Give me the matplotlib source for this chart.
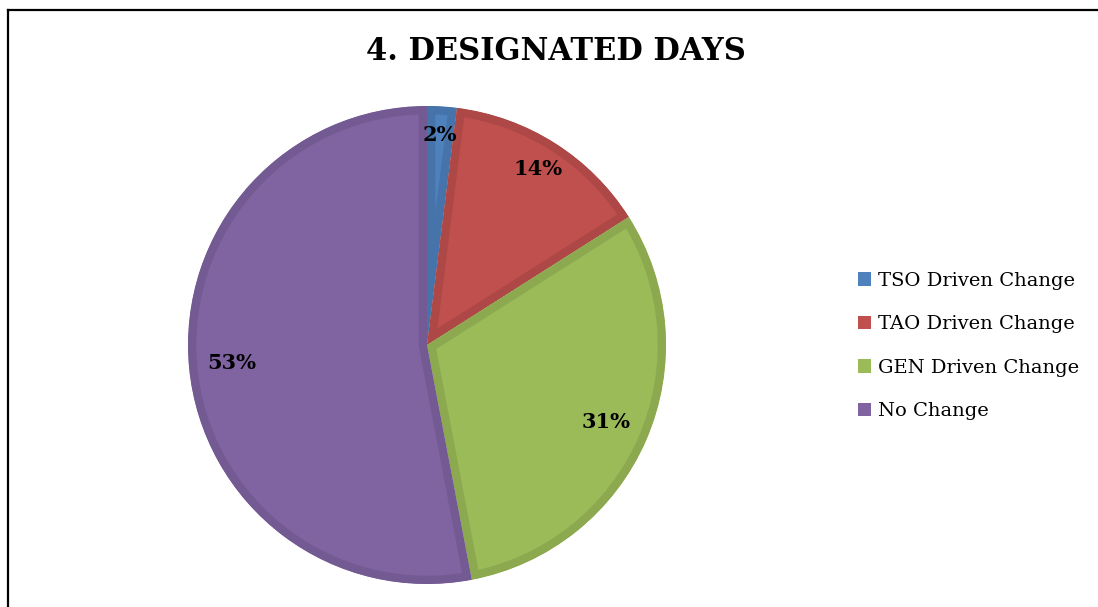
import matplotlib
matplotlib.use("Agg")
import matplotlib.pyplot as plt
from matplotlib.patches import Patch
from matplotlib.lines import Line2D
import numpy as np

# Share of designated days by change driver
categories = ["TSO Driven Change", "TAO Driven Change", "GEN Driven Change", "No Change"]
shares = [2, 14, 31, 53]
fill_colors = ["#4F81BD", "#C0504D", "#9BBB59", "#8064A2"]
edge_colors = ["#4674AA", "#AD4846", "#8CA950", "#745A93"]
label_radius = [0.88, 0.87, 0.815, 0.82]
title = "4. DESIGNATED DAYS"

W, H = 1098, 607
fig = plt.figure(figsize=(W / 100, H / 100), dpi=100)
fig.patch.set_facecolor("white")

# pie axes: centre at (427, 345) px from top-left, radius 239 px
cx, cy, r = 427, 345, 239
ax = fig.add_axes([(cx - r) / W, (H - cy - r) / H, 2 * r / W, 2 * r / H])

wedges, _ = ax.pie(shares, colors=fill_colors, startangle=90, counterclock=False,
                   radius=1.0, center=(0, 0), frame=False)
ax.set_xlim(-1, 1)
ax.set_ylim(-1, 1)
ax.set_aspect("equal")
ax.axis("off")

# darker inner rim on each slice: stroke clipped to the slice itself
for w, ec in zip(wedges, edge_colors):
    w.set_edgecolor(ec)
    w.set_linewidth(12)
    w.set_joinstyle("miter")
    w.set_clip_on(True)
    w.set_clip_path(w)

for w, val, dist in zip(wedges, shares, label_radius):
    mid = np.deg2rad((w.theta1 + w.theta2) / 2)
    ax.text(dist * np.cos(mid), dist * np.sin(mid), f"{val}%",
            ha="center", va="center", fontsize=15, fontweight="bold",
            family="DejaVu Serif", color="black")

fig.text(556 / W, 1 - 52 / H, title, ha="center", va="center",
         fontsize=22, fontweight="bold", family="DejaVu Serif", color="black")

handles = [Patch(facecolor=c, edgecolor="none") for c in fill_colors]
leg = fig.legend(handles, categories, loc="center left",
                 bbox_to_anchor=(840 / W, 1 - 346 / H), frameon=False,
                 prop={"family": "DejaVu Serif", "size": 14},
                 handlelength=0.7, handleheight=0.7, handletextpad=0.35,
                 labelspacing=1.31)

# outer frame: left and top rules
fig.add_artist(Line2D([8 / W, 8 / W], [0, 1 - 10 / H], color="black", lw=1.6,
                      transform=fig.transFigure))
fig.add_artist(Line2D([8 / W, 1], [1 - 10 / H, 1 - 10 / H], color="black", lw=1.6,
                      transform=fig.transFigure))

fig.savefig("out.png", dpi=100)
